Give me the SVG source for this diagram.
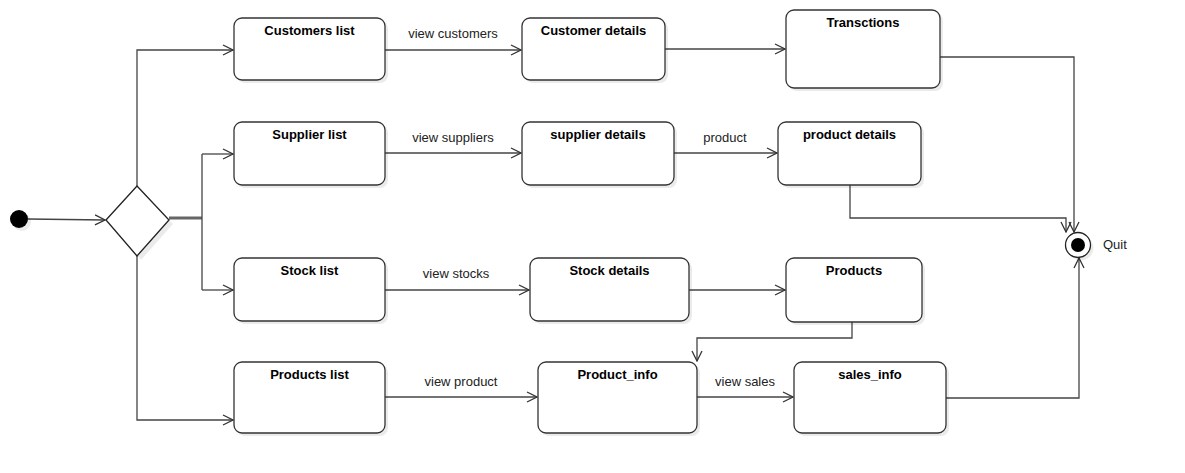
<svg xmlns="http://www.w3.org/2000/svg" width="1185" height="473" viewBox="0 0 1185 473">
<style>
.box{fill:#fff;stroke:#333;stroke-width:1.3}
.sh{fill:#000;opacity:0.08}
.t{font-family:"Liberation Sans",Arial,sans-serif;font-size:13px;font-weight:bold;fill:#000;text-anchor:middle}
.l{font-family:"Liberation Sans",Arial,sans-serif;font-size:13px;fill:#222;text-anchor:middle}
.c{fill:none;stroke:#444;stroke-width:1.3}
</style>
<defs>
<marker id="a" viewBox="0 0 12 12" refX="11" refY="6" markerWidth="12" markerHeight="12" markerUnits="userSpaceOnUse" orient="auto">
<path d="M1,1 L11,6 L1,11" fill="none" stroke="#333" stroke-width="1.3"/>
</marker>
</defs>
<g id="connectors">
<line class="c" x1="28" y1="219" x2="105" y2="220" marker-end="url(#a)"/>
<line x1="169" y1="218" x2="202" y2="218" stroke="#666" stroke-width="3"/>
<line class="c" x1="202" y1="154" x2="202" y2="290"/>
<line class="c" x1="202" y1="154" x2="233" y2="154" marker-end="url(#a)"/>
<line class="c" x1="202" y1="290" x2="233" y2="290" marker-end="url(#a)"/>
<polyline class="c" points="137,186 137,50 233,50" marker-end="url(#a)"/>
<polyline class="c" points="137,256 137,420 233,420" marker-end="url(#a)"/>
<line class="c" x1="385" y1="50" x2="521" y2="50" marker-end="url(#a)"/>
<line class="c" x1="665" y1="49" x2="785" y2="49" marker-end="url(#a)"/>
<polyline class="c" points="940,57 1074,57 1074,232" marker-end="url(#a)"/>
<polyline class="c" points="850,185 850,218 1066,218 1066,232" marker-end="url(#a)"/>
<polyline class="c" points="946,398 1079,398 1079,258" marker-end="url(#a)"/>
<line class="c" x1="385" y1="153" x2="521" y2="153" marker-end="url(#a)"/>
<line class="c" x1="674" y1="153" x2="777" y2="153" marker-end="url(#a)"/>
<line class="c" x1="385" y1="290" x2="529" y2="290" marker-end="url(#a)"/>
<line class="c" x1="689" y1="290" x2="785" y2="290" marker-end="url(#a)"/>
<polyline class="c" points="852,322 852,338 697,338 697,361" marker-end="url(#a)"/>
<line class="c" x1="385" y1="397" x2="537" y2="397" marker-end="url(#a)"/>
<line class="c" x1="697" y1="397" x2="793" y2="397" marker-end="url(#a)"/>
<text class="l" x="453" y="38">view customers</text>
<text class="l" x="453" y="142">view suppliers</text>
<text class="l" x="725" y="142">product</text>
<text class="l" x="456" y="278">view stocks</text>
<text class="l" x="461" y="386">view product</text>
<text class="l" x="745" y="386">view sales</text>
</g>
<g id="start">
<circle cx="22" cy="222" r="9" class="sh"/>
<circle cx="19" cy="219" r="9" fill="#000"/>
</g>
<g id="decision">
<polygon points="110,224 141,190 173,224 141,260" class="sh"/>
<polygon points="106,220 137,186 169,220 137,256" fill="#fff" stroke="#222" stroke-width="1.3"/>
</g>
<g id="customers-list"><rect class="sh" x="237" y="21" width="151" height="62" rx="8"/><rect class="box" x="234" y="18" width="151" height="62" rx="8"/><text class="t" x="309.5" y="35">Customers list</text></g>
<g id="customer-details"><rect class="sh" x="525" y="21" width="143" height="62" rx="8"/><rect class="box" x="522" y="18" width="143" height="62" rx="8"/><text class="t" x="593.5" y="35">Customer details</text></g>
<g id="transctions"><rect class="sh" x="789" y="13" width="154" height="78" rx="8"/><rect class="box" x="786" y="10" width="154" height="78" rx="8"/><text class="t" x="863" y="27">Transctions</text></g>
<g id="supplier-list"><rect class="sh" x="237" y="125" width="151" height="63" rx="8"/><rect class="box" x="234" y="122" width="151" height="63" rx="8"/><text class="t" x="309.5" y="139">Supplier list</text></g>
<g id="supplier-details"><rect class="sh" x="525" y="125" width="152" height="63" rx="8"/><rect class="box" x="522" y="122" width="152" height="63" rx="8"/><text class="t" x="598" y="139">supplier details</text></g>
<g id="product-details"><rect class="sh" x="781" y="125" width="143" height="63" rx="8"/><rect class="box" x="778" y="122" width="143" height="63" rx="8"/><text class="t" x="849.5" y="139">product details</text></g>
<g id="stock-list"><rect class="sh" x="237" y="261" width="151" height="63" rx="8"/><rect class="box" x="234" y="258" width="151" height="63" rx="8"/><text class="t" x="309.5" y="275">Stock list</text></g>
<g id="stock-details"><rect class="sh" x="533" y="261" width="159" height="63" rx="8"/><rect class="box" x="530" y="258" width="159" height="63" rx="8"/><text class="t" x="609.5" y="275">Stock details</text></g>
<g id="products"><rect class="sh" x="789" y="261" width="136" height="64" rx="8"/><rect class="box" x="786" y="258" width="136" height="64" rx="8"/><text class="t" x="854" y="275">Products</text></g>
<g id="products-list"><rect class="sh" x="237" y="365" width="151" height="71" rx="8"/><rect class="box" x="234" y="362" width="151" height="71" rx="8"/><text class="t" x="309.5" y="379">Products list</text></g>
<g id="product-info"><rect class="sh" x="541" y="365" width="159" height="71" rx="8"/><rect class="box" x="538" y="362" width="159" height="71" rx="8"/><text class="t" x="617.5" y="379">Product_info</text></g>
<g id="sales-info"><rect class="sh" x="797" y="365" width="152" height="71" rx="8"/><rect class="box" x="794" y="362" width="152" height="71" rx="8"/><text class="t" x="870" y="379">sales_info</text></g>
<g id="quit">
<circle cx="1081" cy="248" r="12.5" class="sh"/>
<circle cx="1078" cy="245" r="12.5" fill="#fff" stroke="#222" stroke-width="1.3"/>
<circle cx="1078" cy="245" r="7" fill="#000"/>
<text x="1103" y="249" font-family="Liberation Sans, Arial, sans-serif" font-size="13" fill="#222">Quit</text>
</g>
</svg>
